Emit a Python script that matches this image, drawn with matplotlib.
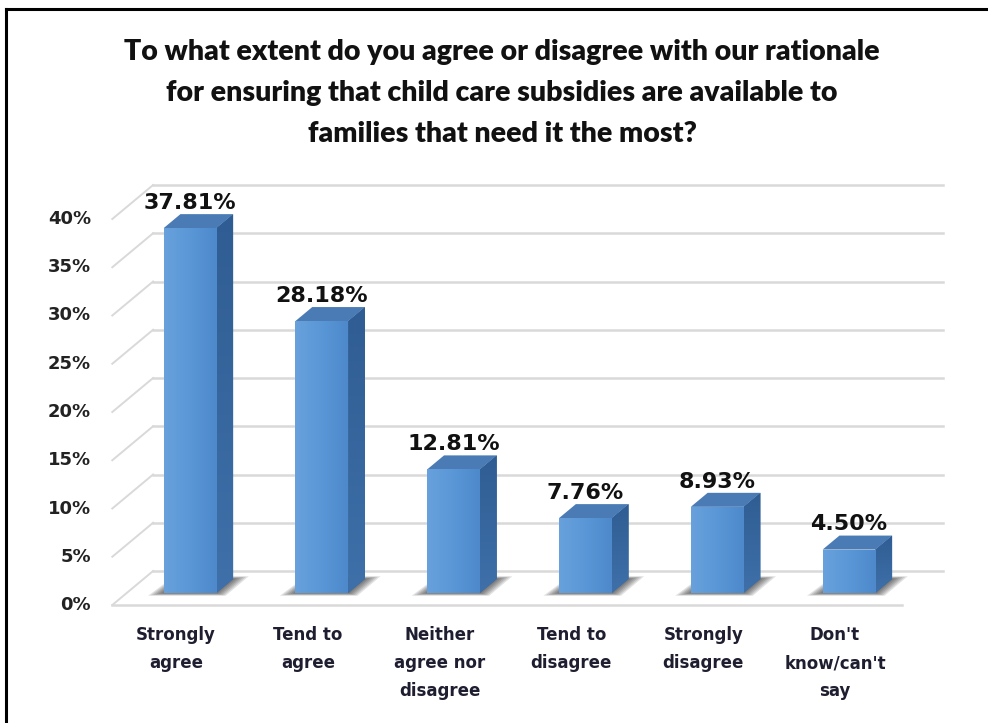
import numpy as np
import matplotlib.pyplot as plt
from matplotlib.patches import Polygon
from matplotlib.lines import Line2D
from matplotlib.colors import LinearSegmentedColormap

# survey answers and their shares (%)
categories = ["Strongly\nagree", "Tend to\nagree", "Neither\nagree nor\ndisagree",
              "Tend to\ndisagree", "Strongly\ndisagree", "Don't\nknow/can't\nsay"]
values = [37.81, 28.18, 12.81, 7.76, 8.93, 4.50]
ticks = [0, 5, 10, 15, 20, 25, 30, 35, 40]
title_lines = ["To what extent do you agree or disagree with our rationale",
               "for ensuring that child care subsidies are available to",
               "families that need it the most?"]

W, H = 988, 723
fig = plt.figure(figsize=(W / 100, H / 100), dpi=100)
ax = fig.add_axes([0, 0, 1, 1])
ax.axis("off")

# pixels per category step / per percentage point
sx, sy = 131.8, 9.65
x_origin, y_origin = 190, 593


def depth(d):
    """offset (data units) of a point pushed d pixels back into the chart"""
    return d * 1.2 / sx, d / sy


fdx, fdy = depth(-12)   # front edge of the floor
wdx, wdy = depth(22)    # back wall
bdx, bdy = depth(14)    # bar depth
wall_left, wall_right = -0.28, 5.71
floor_left = wall_left + (fdx - wdx)
floor_right = wall_right + (fdx - wdx)

grid_c = "#d9d9d9"
# back wall gridlines and left wall diagonals
for t in ticks:
    ax.plot([wall_left, wall_right], [t + wdy, t + wdy], color=grid_c, lw=1.8, zorder=1)
    ax.plot([floor_left, wall_left], [t + fdy, t + wdy], color=grid_c, lw=1.4, zorder=1)
    ax.text(floor_left - 0.16, t + fdy, f"{t}%", ha="right", va="center",
            fontsize=13, fontweight="bold", color="#222222")
ax.plot([floor_left, floor_right], [fdy, fdy], color=grid_c, lw=1.8, zorder=1)

front_cmap = LinearSegmentedColormap.from_list("front", ["#68a1dc", "#5a97d7", "#4d89cb"])
side_cmap = LinearSegmentedColormap.from_list("side", ["#3f70a9", "#2f5d93"])
grad = np.linspace(0, 1, 64).reshape(1, -1)

for i, v in enumerate(values):
    l, r = i - 0.2, i + 0.2

    # soft shadow on the floor
    for e in range(1, 7):
        ex, ey = e * 2.6 / sx, e * 0.45 / sy
        shadow = Polygon([(l - ex, -ey), (r + ex * 0.6, -ey), (r + bdx + ex, bdy + ey),
                          (l + bdx - ex * 0.4, bdy + ey)], closed=True,
                         facecolor="#141414", edgecolor="none", alpha=0.12, zorder=2)
        ax.add_patch(shadow)

    side = Polygon([(r, 0), (r + bdx, bdy), (r + bdx, v + bdy), (r, v)], closed=True,
                   facecolor="#3565a0", edgecolor="none", zorder=3)
    ax.add_patch(side)
    im = ax.imshow(grad.T[::-1], extent=[r, r + bdx, 0, v + bdy], aspect="auto",
                   cmap=side_cmap, zorder=3.1)
    im.set_clip_path(side)

    top = Polygon([(l, v), (r, v), (r + bdx, v + bdy), (l + bdx, v + bdy)], closed=True,
                  facecolor="#4a7bb5", edgecolor="none", zorder=3)
    ax.add_patch(top)

    bar = ax.bar(i, v, width=0.4, color="#5a97d7", zorder=4)[0]
    im = ax.imshow(grad, extent=[l, r, 0, v], aspect="auto", cmap=front_cmap, zorder=4.1)
    im.set_clip_path(bar)

    ax.text(i, v + 2.0, f"{v:.2f}%", ha="center", va="baseline",
            fontsize=16, fontweight="bold", color="#111111", zorder=5)
    ax.text(i - 14 / sx, -3.45, categories[i], ha="center", va="top", linespacing=1.72,
            fontsize=12, fontweight="bold", color="#1e1e30")

ax.set_xlim(-x_origin / sx, (W - x_origin) / sx)
ax.set_ylim(-(H - y_origin) / sy, y_origin / sy)

for k, line in enumerate(title_lines):
    fig.text(502 / W, 1 - (52 + 41 * k) / H, line, ha="center", va="center",
             fontsize=20.5, fontfamily="Lato", fontweight="heavy", color="#111111")

# black frame on top and left edges
fig.add_artist(Line2D([6 / W, 1], [1 - 9 / H, 1 - 9 / H], transform=fig.transFigure,
                      color="black", lw=2.2))
fig.add_artist(Line2D([6 / W, 6 / W], [0, 1 - 9 / H], transform=fig.transFigure,
                      color="black", lw=2.2))

fig.savefig("out.png", dpi=100, facecolor="white")
